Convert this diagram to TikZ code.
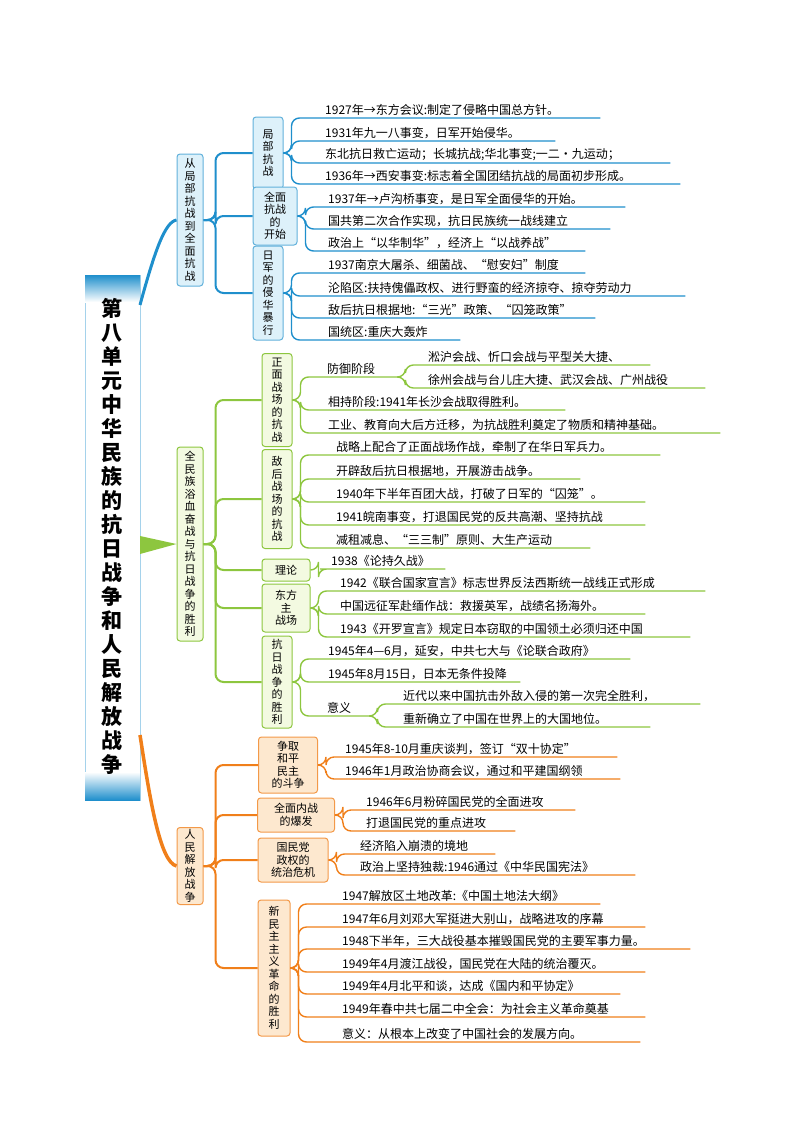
\documentclass[tikz,border=0pt]{standalone}
\usepackage{fontspec}
\setmainfont{Noto Sans CJK SC}
\usetikzlibrary{positioning,calc}

\definecolor{bcol}{HTML}{1F8FCC}
\definecolor{bfill}{HTML}{DDF1FA}
\definecolor{gcol}{HTML}{8DC63F}
\definecolor{gfill}{HTML}{F3FAE1}
\definecolor{ocol}{HTML}{F07F1A}
\definecolor{ofill}{HTML}{FDE8CF}

\tikzset{
  box/.style={draw, rounded corners=3pt, line width=1pt, align=center, inner sep=1pt,
    font=\fontsize{11}{12.5}\selectfont},
  bbox/.style={box, draw=bcol!70, fill=bfill},
  gbox/.style={box, draw=gcol, fill=gfill},
  obox/.style={box, draw=ocol!80, fill=ofill},
  leaf/.style={anchor=south west, inner xsep=3pt, inner ysep=2pt, align=left,
    font=\fontsize{12}{13}\selectfont},
  bl/.style={draw=bcol, line width=1.4pt, rounded corners=8pt},
  gl/.style={draw=gcol, line width=1.4pt, rounded corners=8pt},
  ol/.style={draw=ocol, line width=1.4pt, rounded corners=8pt}
}

% leaf text with its underline running to #4
\newcommand\leafnode[5]{%
  \pgfmathsetmacro\lfw{#4-#2-6}%
  \node[leaf, text width=\lfw pt] (#1) at (#2,#3) {#5};}

\begin{document}
\begin{tikzpicture}[x=1pt,y=-1pt]
  \useasboundingbox (0,0) rectangle (800,1132);

  % title column
  \draw[draw=bcol!40, fill=white] (85,275) rectangle (140,800);
  \shade[top color=bcol, bottom color=white] (85,275) rectangle (140,302);
  \shade[top color=white, bottom color=bcol] (85,772) rectangle (140,800);
  \node[font=\bfseries\fontsize{21}{24}\selectfont, align=center] (title) at (112,536)
    {第\\八\\单\\元\\中\\华\\民\\族\\的\\抗\\日\\战\\争\\和\\人\\民\\解\\放\\战\\争};
  \coordinate (tb) at (140,305);
  \coordinate (tgu) at (140,536);
  \coordinate (tgd) at (140,554);
  \coordinate (to) at (140,735);

  % first level
  \node[bbox, minimum width=26, minimum height=132] (cong) at (190,220)
    {从\\局\\部\\抗\\战\\到\\全\\面\\抗\\战};
  \node[gbox, minimum width=26, minimum height=194] (quanmin) at (190,544)
    {全\\民\\族\\浴\\血\\奋\\战\\与\\抗\\日\\战\\争\\的\\胜\\利};
  \node[obox, minimum width=26, minimum height=77] (renmin) at (190,866)
    {人\\民\\解\\放\\战\\争};

  \draw[bcol, line width=3pt] (tb) .. controls (155,250) and (165,222) .. (cong.west);
  \fill[gcol] (tgu) -- (quanmin.west) -- (tgd) -- cycle;
  \draw[ocol, line width=3.5pt] (to) .. controls (150,800) and (160,862) .. (renmin.west);

  % second level
  \node[bbox, minimum width=30, minimum height=72] (jubu) at (268,153) {局\\部\\抗\\战};
  \node[bbox, minimum width=44, minimum height=58] (kaishi) at (275,216) {全面\\抗战\\的\\开始};
  \node[bbox, minimum width=30, minimum height=94] (baoxing) at (268,293)
    {日\\军\\的\\侵\\华\\暴\\行};
  \node[gbox, minimum width=30, minimum height=93] (zhengmian) at (277,400)
    {正\\面\\战\\场\\的\\抗\\战};
  \node[gbox, minimum width=30, minimum height=99] (dihou) at (277,499)
    {敌\\后\\战\\场\\的\\抗\\战};
  \node[gbox, minimum width=48, minimum height=22] (lilun) at (286,570) {理论};
  \node[gbox, minimum width=48, minimum height=48] (dongfang) at (286,608) {东方\\主\\战场};
  \node[gbox, minimum width=30, minimum height=92] (shengli) at (277,682)
    {抗\\日\\战\\争\\的\\胜\\利};
  \node[obox, minimum width=59, minimum height=56] (zhengqu) at (288,765)
    {争取\\和平\\民主\\的斗争};
  \node[obox, minimum width=77, minimum height=34] (neizhan) at (296,815) {全面内战\\的爆发};
  \node[obox, minimum width=70, minimum height=44] (weiji) at (293,860)
    {国民党\\政权的\\统治危机};
  \node[obox, minimum width=32, minimum height=136] (xinmin) at (274,968)
    {新\\民\\主\\主\\义\\革\\命\\的\\胜\\利};

  \foreach \c in {jubu,kaishi,baoxing}
    \draw[bl, line width=2pt] (cong.east) -- ++(12,0) |- (\c.west);
  \foreach \c in {zhengmian,dihou,lilun,dongfang,shengli}
    \draw[gl, line width=2pt] (quanmin.east) -- ++(12,0) |- (\c.west);
  \foreach \c in {zhengqu,neizhan,weiji,xinmin}
    \draw[ol, line width=2pt] (renmin.east) -- ++(12,0) |- (\c.west);

  % blue leaves
  \leafnode{b1}{322}{118}{600}{1927年→东方会议:制定了侵略中国总方针。}
  \leafnode{b2}{322}{141}{555}{1931年九一八事变，日军开始侵华。}
  \leafnode{b3}{322}{163}{670}{东北抗日救亡运动；长城抗战;华北事变;一二·九运动；}
  \leafnode{b4}{322}{184}{680}{1936年→西安事变:标志着全国团结抗战的局面初步形成。}
  \leafnode{b5}{325}{207}{625}{1937年→卢沟桥事变，是日军全面侵华的开始。}
  \leafnode{b6}{325}{229}{610}{国共第二次合作实现，抗日民族统一战线建立}
  \leafnode{b7}{325}{251}{585}{政治上“以华制华”，经济上“以战养战”}
  \leafnode{b8}{325}{273}{585}{1937南京大屠杀、细菌战、“慰安妇”制度}
  \leafnode{b9}{325}{296}{685}{沦陷区:扶持傀儡政权、进行野蛮的经济掠夺、掠夺劳动力}
  \leafnode{b10}{325}{318}{595}{敌后抗日根据地:“三光”政策、“囚笼政策”}
  \leafnode{b11}{325}{340}{460}{国统区:重庆大轰炸}
  \foreach \l in {b1,b2,b3,b4}
    \draw[bl] (jubu.east) -- ++(8,0) |- (\l.south west) -- (\l.south east);
  \foreach \l in {b5,b6,b7}
    \draw[bl] (kaishi.east) -- ++(8,0) |- (\l.south west) -- (\l.south east);
  \foreach \l in {b8,b9,b10,b11}
    \draw[bl] (baoxing.east) -- ++(8,0) |- (\l.south west) -- (\l.south east);

  % green leaves
  \leafnode{g0}{324}{377}{400}{防御阶段}
  \leafnode{g1}{425}{365}{650}{淞沪会战、忻口会战与平型关大捷、}
  \leafnode{g2}{425}{388}{705}{徐州会战与台儿庄大捷、武汉会战、广州战役}
  \leafnode{g3}{325}{410}{565}{相持阶段:1941年长沙会战取得胜利。}
  \leafnode{g4}{325}{433}{720}{工业、教育向大后方迁移，为抗战胜利奠定了物质和精神基础。}
  \leafnode{g5}{333}{455}{660}{战略上配合了正面战场作战，牵制了在华日军兵力。}
  \leafnode{g6}{333}{479}{580}{开辟敌后抗日根据地，开展游击战争。}
  \leafnode{g7}{333}{502}{645}{1940年下半年百团大战，打破了日军的“囚笼”。}
  \leafnode{g8}{333}{525}{645}{1941皖南事变，打退国民党的反共高潮、坚持抗战}
  \leafnode{g9}{333}{548}{590}{减租减息、“三三制”原则、大生产运动}
  \leafnode{g10}{328}{569}{445}{1938《论持久战》}
  \leafnode{g11}{337}{591}{705}{1942《联合国家宣言》标志世界反法西斯统一战线正式形成}
  \leafnode{g12}{337}{614}{645}{中国远征军赴缅作战：救援英军，战绩名扬海外。}
  \leafnode{g13}{337}{637}{690}{1943《开罗宣言》规定日本窃取的中国领土必须归还中国}
  \leafnode{g14}{325}{659}{630}{1945年4—6月，延安，中共七大与《论联合政府》}
  \leafnode{g15}{325}{682}{520}{1945年8月15日，日本无条件投降}
  \leafnode{g16}{324}{716}{372}{意义}
  \leafnode{g17}{400}{704}{700}{近代以来中国抗击外敌入侵的第一次完全胜利，}
  \leafnode{g18}{400}{727}{650}{重新确立了中国在世界上的大国地位。}
  \foreach \l in {g0,g3,g4}
    \draw[gl] (zhengmian.east) -- ++(8,0) |- (\l.south west) -- (\l.south east);
  \foreach \l in {g1,g2}
    \draw[gl] (g0.south east) -- ++(5,0) |- (\l.south west) -- (\l.south east);
  \foreach \l in {g5,g6,g7,g8,g9}
    \draw[gl] (dihou.east) -- ++(8,0) |- (\l.south west) -- (\l.south east);
  \draw[gl] (lilun.east) -- ++(8,0) |- (g10.south west) -- (g10.south east);
  \foreach \l in {g11,g12,g13}
    \draw[gl] (dongfang.east) -- ++(8,0) |- (\l.south west) -- (\l.south east);
  \foreach \l in {g14,g15,g16}
    \draw[gl] (shengli.east) -- ++(8,0) |- (\l.south west) -- (\l.south east);
  \foreach \l in {g17,g18}
    \draw[gl] (g16.south east) -- ++(5,0) |- (\l.south west) -- (\l.south east);

  % orange leaves
  \leafnode{o1}{342}{757}{617}{1945年8-10月重庆谈判，签订“双十协定”}
  \leafnode{o2}{342}{779}{620}{1946年1月政治协商会议，通过和平建国纲领}
  \leafnode{o3}{363}{810}{575}{1946年6月粉碎国民党的全面进攻}
  \leafnode{o4}{363}{831}{515}{打退国民党的重点进攻}
  \leafnode{o5}{357}{854}{495}{经济陷入崩溃的境地}
  \leafnode{o6}{357}{875}{635}{政治上坚持独裁:1946通过《中华民国宪法》}
  \leafnode{o7}{339}{904}{600}{1947解放区土地改革:《中国土地法大纲》}
  \leafnode{o8}{339}{927}{645}{1947年6月刘邓大军挺进大别山，战略进攻的序幕}
  \leafnode{o9}{339}{949}{690}{1948下半年，三大战役基本摧毁国民党的主要军事力量。}
  \leafnode{o10}{339}{972}{645}{1949年4月渡江战役，国民党在大陆的统治覆灭。}
  \leafnode{o11}{339}{994}{620}{1949年4月北平和谈，达成《国内和平协定》}
  \leafnode{o12}{339}{1017}{645}{1949年春中共七届二中全会：为社会主义革命奠基}
  \leafnode{o13}{339}{1042}{640}{意义：从根本上改变了中国社会的发展方向。}
  \foreach \l in {o1,o2}
    \draw[ol] (zhengqu.east) -- ++(8,0) |- (\l.south west) -- (\l.south east);
  \foreach \l in {o3,o4}
    \draw[ol] (neizhan.east) -- ++(8,0) |- (\l.south west) -- (\l.south east);
  \foreach \l in {o5,o6}
    \draw[ol] (weiji.east) -- ++(8,0) |- (\l.south west) -- (\l.south east);
  \foreach \l in {o7,o8,o9,o10,o11,o12,o13}
    \draw[ol] (xinmin.east) -- ++(8,0) |- (\l.south west) -- (\l.south east);
\end{tikzpicture}
\end{document}
